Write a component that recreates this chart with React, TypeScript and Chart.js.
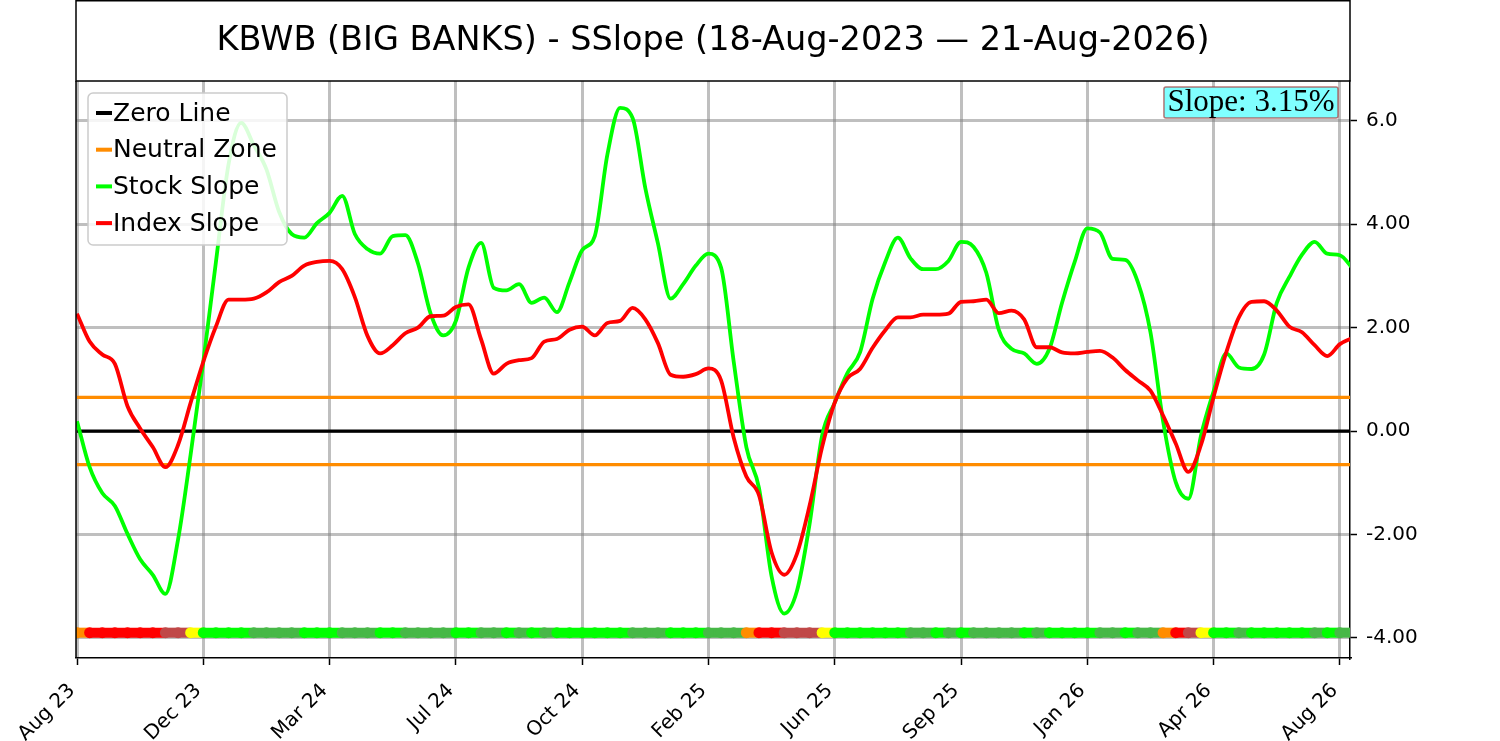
import { Chart, registerables } from 'chart.js';
import { useEffect, useRef } from 'react';

Chart.register(...registerables);

// tick labels on the date axis (equally spaced)
const tickLabels = ['Aug 23', 'Dec 23', 'Mar 24', 'Jul 24', 'Oct 24', 'Feb 25', 'Jun 25', 'Sep 25', 'Jan 26', 'Apr 26', 'Aug 26'];
const SAMPLES_PER_TICK = 10;

const yTicks = [-4, -2, 0, 2, 4, 6];
const yTickLabels = ['-4.00', '-2.00', '0.00', '2.00', '4.00', '6.0'];

const ZERO_LEVEL = 0;
const NEUTRAL_LEVEL = 0.65;
const SIGNAL_LEVEL = -3.9;

const stockSlope = [
  0.19, -0.70, -1.20, -1.45, -1.99, -2.48, -2.78, -3.15, -2.10, -0.45,
  1.34, 3.27, 5.16, 5.96, 5.53, 5.06, 4.24, 3.81, 3.74, 4.02,
  4.22, 4.55, 3.81, 3.52, 3.43, 3.77, 3.79, 3.24, 2.27, 1.85,
  2.13, 3.16, 3.64, 2.77, 2.72, 2.84, 2.48, 2.58, 2.30, 2.88,
  3.50, 3.77, 5.35, 6.25, 6.05, 4.70, 3.63, 2.56, 2.84, 3.20,
  3.43, 3.16, 1.34, -0.31, -1.10, -2.81, -3.53, -3.10, -1.81, -0.09,
  0.55, 1.12, 1.52, 2.56, 3.27, 3.74, 3.34, 3.13, 3.13, 3.29,
  3.66, 3.56, 3.06, 1.95, 1.59, 1.50, 1.30, 1.59, 2.48, 3.27,
  3.92, 3.84, 3.33, 3.31, 2.88, 1.91, 0.19, -0.99, -1.31, -0.09,
  0.77, 1.50, 1.23, 1.20, 1.48, 2.48, 2.98, 3.41, 3.66, 3.43,
  3.40, 3.15,
];

const indexSlope = [
  2.27, 1.73, 1.48, 1.30, 0.48, 0.05, -0.31, -0.70, -0.27, 0.55,
  1.34, 2.02, 2.54, 2.54, 2.56, 2.68, 2.88, 3.00, 3.20, 3.27,
  3.29, 3.13, 2.59, 1.84, 1.50, 1.66, 1.89, 2.00, 2.22, 2.23,
  2.40, 2.45, 1.77, 1.11, 1.30, 1.37, 1.41, 1.73, 1.78, 1.96,
  2.02, 1.85, 2.09, 2.13, 2.38, 2.16, 1.70, 1.09, 1.05, 1.10,
  1.21, 0.98, -0.13, -0.88, -1.24, -2.35, -2.78, -2.38, -1.45, -0.31,
  0.55, 1.02, 1.20, 1.61, 1.95, 2.20, 2.20, 2.25, 2.25, 2.27,
  2.50, 2.51, 2.54, 2.28, 2.33, 2.16, 1.62, 1.62, 1.52, 1.50,
  1.53, 1.55, 1.42, 1.18, 0.98, 0.78, 0.30, -0.24, -0.79, -0.27,
  0.66, 1.52, 2.20, 2.50, 2.51, 2.33, 2.02, 1.91, 1.66, 1.45,
  1.68, 1.80,
];

// O = orange, R = red, B = brown-red, Y = yellow, L = lime, G = green
const signals = [
  'O', 'R', 'R', 'R', 'R', 'R', 'R', 'B', 'B', 'Y',
  'L', 'L', 'L', 'L', 'G', 'G', 'G', 'G', 'L', 'L',
  'L', 'G', 'G', 'G', 'L', 'L', 'G', 'G', 'G', 'G',
  'L', 'L', 'G', 'G', 'L', 'G', 'L', 'G', 'L', 'L',
  'L', 'L', 'L', 'L', 'G', 'G', 'G', 'L', 'L', 'L',
  'G', 'G', 'G', 'O', 'R', 'R', 'B', 'B', 'B', 'Y',
  'L', 'L', 'L', 'L', 'L', 'L', 'G', 'G', 'L', 'G',
  'L', 'G', 'G', 'G', 'G', 'L', 'G', 'L', 'L', 'L',
  'L', 'G', 'G', 'L', 'G', 'G', 'O', 'R', 'B', 'Y',
  'L', 'L', 'G', 'L', 'L', 'L', 'L', 'L', 'G', 'L',
  'G', 'G',
];

const signalColors: Record<string, string> = {
  O: '#FF8C00',
  R: '#FF0000',
  B: '#C04848',
  Y: '#FFFF00',
  L: '#00FF00',
  G: '#47B847',
};

const TITLE = 'KBWB (BIG BANKS) - SSlope (18-Aug-2023 \u2014 21-Aug-2026)';

const toPoints = (vals: number[]) => vals.map((y, i) => ({ x: i / SAMPLES_PER_TICK, y }));
const flat = (level: number) => stockSlope.map((_, i) => ({ x: i / SAMPLES_PER_TICK, y: level }));

const legendItems = [
  { label: 'Zero Line', color: '#000000' },
  { label: 'Neutral Zone', color: '#FF8C00' },
  { label: 'Stock Slope', color: '#00FF00' },
  { label: 'Index Slope', color: '#FF0000' },
];

const overlayPlugin = {
  id: 'overlay',
  afterDraw(chart: any) {
    const { ctx, chartArea: a } = chart;
    ctx.save();

    // left spine + title box
    ctx.strokeStyle = '#000';
    ctx.lineWidth = 1.5;
    ctx.beginPath();
    ctx.moveTo(a.left, a.top);
    ctx.lineTo(a.left, a.bottom);
    ctx.stroke();
    ctx.strokeRect(a.left, 0.75, a.right - a.left, a.top - 0.75);

    ctx.fillStyle = '#000';
    ctx.font = '33.5px "DejaVu Sans"';
    ctx.textAlign = 'center';
    ctx.textBaseline = 'middle';
    ctx.fillText(TITLE, (a.left + a.right) / 2, a.top / 2 + 1);

    // slope box
    const slopeText = `Slope: ${stockSlope[stockSlope.length - 1].toFixed(2)}%`;
    ctx.font = '31px "Liberation Serif"';
    const tw = ctx.measureText(slopeText).width;
    const bx = a.right - 12 - tw - 7;
    const by = a.top + 6;
    ctx.beginPath();
    ctx.roundRect(bx, by, tw + 7, 31, 2);
    ctx.fillStyle = '#80FFFF';
    ctx.fill();
    ctx.strokeStyle = 'rgba(160, 60, 60, 0.7)';
    ctx.lineWidth = 1.5;
    ctx.stroke();
    ctx.fillStyle = '#000';
    ctx.textAlign = 'left';
    ctx.textBaseline = 'alphabetic';
    ctx.fillText(slopeText, bx + 3.5, by + 24);

    // legend
    const lx = a.left + 12;
    const ly = a.top + 12;
    ctx.beginPath();
    ctx.roundRect(lx, ly, 199, 152, 5);
    ctx.fillStyle = 'rgba(255,255,255,0.85)';
    ctx.fill();
    ctx.strokeStyle = '#cccccc';
    ctx.lineWidth = 1.5;
    ctx.stroke();
    ctx.font = '25px "DejaVu Sans"';
    ctx.textBaseline = 'middle';
    legendItems.forEach((item, i) => {
      const y = ly + 20 + i * 36.7;
      ctx.strokeStyle = item.color;
      ctx.lineWidth = 4;
      ctx.beginPath();
      ctx.moveTo(lx + 8, y);
      ctx.lineTo(lx + 24, y);
      ctx.stroke();
      ctx.fillStyle = '#000';
      ctx.fillText(item.label, lx + 25, y + 1);
    });

    ctx.restore();
  },
};

const gridStyle = {
  color: 'rgba(128,128,128,0.5)',
  lineWidth: 3,
  tickColor: '#000',
  tickWidth: 1.5,
  tickLength: 7,
};

export default function App() {
  const canvasRef = useRef<HTMLCanvasElement>(null);

  useEffect(() => {
    if (!canvasRef.current) return;
    Chart.defaults.font.family = '"DejaVu Sans"';

    const chart = new Chart(canvasRef.current, {
      type: 'line',
      data: {
        datasets: [
          {
            label: 'Index Slope',
            data: toPoints(indexSlope),
            borderColor: '#FF0000',
            borderWidth: 3.8,
            pointRadius: 0,
            cubicInterpolationMode: 'monotone',
            order: 1,
          },
          {
            label: 'Stock Slope',
            data: toPoints(stockSlope),
            borderColor: '#00FF00',
            borderWidth: 3.8,
            pointRadius: 0,
            cubicInterpolationMode: 'monotone',
            order: 2,
          },
          {
            label: 'Signal',
            data: flat(SIGNAL_LEVEL),
            borderWidth: 10,
            borderCapStyle: 'butt',
            segment: {
              borderColor: (c: any) => signalColors[signals[c.p0DataIndex]],
            },
            pointRadius: 5.5,
            pointBorderWidth: 0,
            pointBackgroundColor: signals.map((s) => signalColors[s]),
            order: 3,
          },
          {
            label: 'Zero Line',
            data: flat(ZERO_LEVEL),
            borderColor: '#000000',
            borderWidth: 3.2,
            pointRadius: 0,
            order: 4,
          },
          {
            label: 'Neutral Zone',
            data: flat(NEUTRAL_LEVEL),
            borderColor: '#FF8C00',
            borderWidth: 3.2,
            pointRadius: 0,
            order: 5,
          },
          {
            label: 'Neutral Zone Low',
            data: flat(-NEUTRAL_LEVEL),
            borderColor: '#FF8C00',
            borderWidth: 3.2,
            pointRadius: 0,
            order: 5,
          },
        ],
      },
      options: {
        animation: false,
        responsive: false,
        layout: { padding: { left: 76, top: 81, right: 0, bottom: 0 } },
        plugins: {
          legend: { display: false },
          tooltip: { enabled: false },
        },
        scales: {
          x: {
            type: 'linear',
            min: -0.008,
            max: 10.08,
            afterBuildTicks: (scale: any) => {
              scale.ticks = tickLabels.map((_, i) => ({ value: i }));
            },
            afterFit: (scale: any) => {
              scale.height = 83;
            },
            ticks: {
              autoSkip: false,
              minRotation: 45,
              maxRotation: 45,
              color: '#000',
              font: { size: 20 },
              padding: 14,
              labelOffset: -5,
              callback: (_v: any, i: number) => tickLabels[i],
            },
            grid: gridStyle,
            border: { display: true, color: '#000', width: 1.5 },
          },
          y: {
            type: 'linear',
            position: 'right',
            min: -4.39,
            max: 6.77,
            afterBuildTicks: (scale: any) => {
              scale.ticks = yTicks.map((v) => ({ value: v }));
            },
            afterFit: (scale: any) => {
              scale.width = 150;
            },
            ticks: {
              color: '#000',
              font: { size: 20 },
              padding: 9,
              callback: (_v: any, i: number) => yTickLabels[i],
            },
            grid: gridStyle,
            border: { display: true, color: '#000', width: 1.5 },
          },
        },
      },
      plugins: [overlayPlugin],
    });

    return () => chart.destroy();
  }, []);

  return (
    <div style={{ position: 'fixed', left: 0, top: 0, width: 1500, height: 741, background: '#fff' }}>
      <canvas ref={canvasRef} width={1500} height={741} />
    </div>
  );
}
